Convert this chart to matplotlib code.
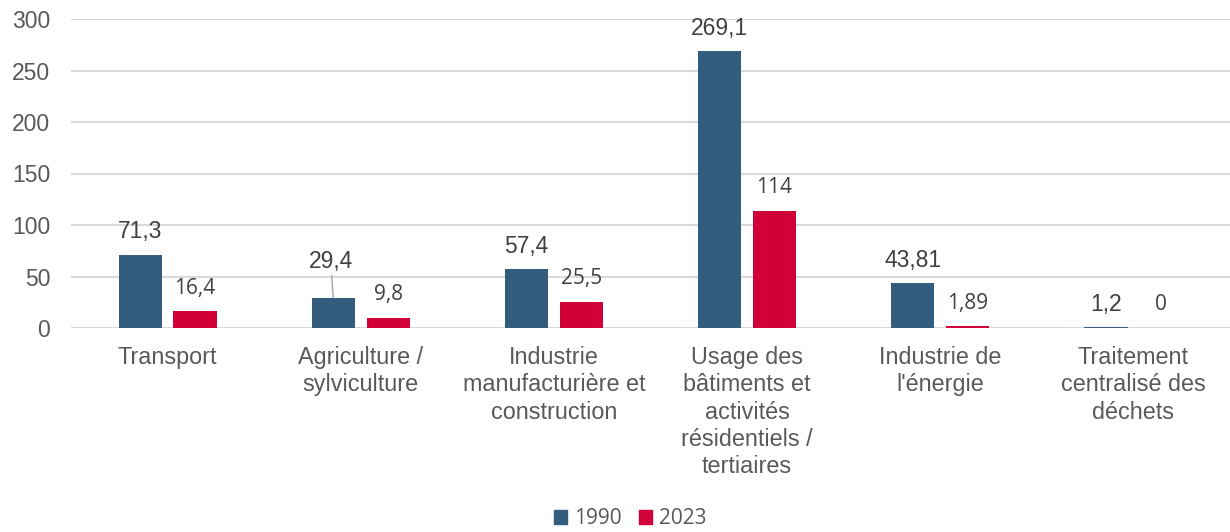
import matplotlib.pyplot as plt
from matplotlib.patches import Patch
import numpy as np

categories = ["Transport", "Agriculture /\nsylviculture", "Industrie\nmanufacturière et\nconstruction",
              "Usage des\nbâtiments et\nactivités\nrésidentiels /\ntertiaires", "Industrie de\nl'énergie",
              "Traitement\ncentralisé des\ndéchets"]
values_1990 = [71.3, 29.4, 57.4, 269.1, 43.81, 1.2]
values_2023 = [16.4, 9.8, 25.5, 114, 1.89, 0]
labels_1990 = ["71,3", "29,4", "57,4", "269,1", "43,81", "1,2"]
labels_2023 = ["16,4", "9,8", "25,5", "114", "1,89", "0"]
yticks = [0, 50, 100, 150, 200, 250, 300]

blue = "#335C7D"
red = "#D20038"
text_col = "#595959"
label_col = "#404040"

fig = plt.figure(figsize=(12.3, 5.32), dpi=100)
ax = fig.add_axes([71 / 1230, (532 - 328) / 532, 1 - 71 / 1230, (328 - 19) / 532])

x = np.arange(len(categories))
w = 0.223
off = 0.142
ax.bar(x - off, values_1990, w, color=blue, zorder=3)
ax.bar(x + off, values_2023, w, color=red, zorder=3)

ax.set_xlim(-0.5, len(categories) - 0.5)
ax.set_ylim(0, 300)
ax.set_yticks(yticks)
ax.set_yticklabels([str(t) for t in yticks], fontsize=16.5, color=text_col, family="Liberation Sans")
ax.yaxis.grid(True, color="#D9D9D9", linewidth=1.5, zorder=0)
ax.tick_params(axis="y", length=0, pad=15)
ax.tick_params(axis="x", length=0, pad=13)
ax.set_xticks(x)
ax.set_xticklabels(categories, fontsize=16.8, color=text_col, family="Liberation Sans", linespacing=1.24)
for s in ax.spines.values():
    s.set_visible(False)

# data labels
for i, (xv, v) in enumerate(zip(x - off, values_1990)):
    if i == 1:
        # label pushed up with a leader line
        ax.annotate(labels_1990[i], xy=(xv, v), xytext=(-2, 18), textcoords="offset points",
                    ha="center", va="bottom", fontsize=16.5, color=label_col, family="Liberation Sans",
                    arrowprops=dict(arrowstyle="-", color="#A6A6A6", lw=1, shrinkA=0, shrinkB=0))
    else:
        ax.annotate(labels_1990[i], xy=(xv, v), xytext=(0, 8), textcoords="offset points",
                    ha="center", va="bottom", fontsize=16.5, color=label_col, family="Liberation Sans")
for i, (xv, v) in enumerate(zip(x + off, values_2023)):
    ax.annotate(labels_2023[i], xy=(xv, v), xytext=(0, 9), textcoords="offset points",
                ha="center", va="bottom", fontsize=15, color=label_col, family="Open Sans")

handles = [Patch(color=blue, label="1990"), Patch(color=red, label="2023")]
fig.legend(handles=handles, loc="center", bbox_to_anchor=(630 / 1230, 1 - 519 / 532), ncol=2,
           frameon=False, prop={"family": "Open Sans", "size": 15}, labelcolor=text_col,
           handlelength=0.65, handleheight=0.65, handletextpad=0.3, columnspacing=0.85)

fig.savefig("out.png", dpi=100)
